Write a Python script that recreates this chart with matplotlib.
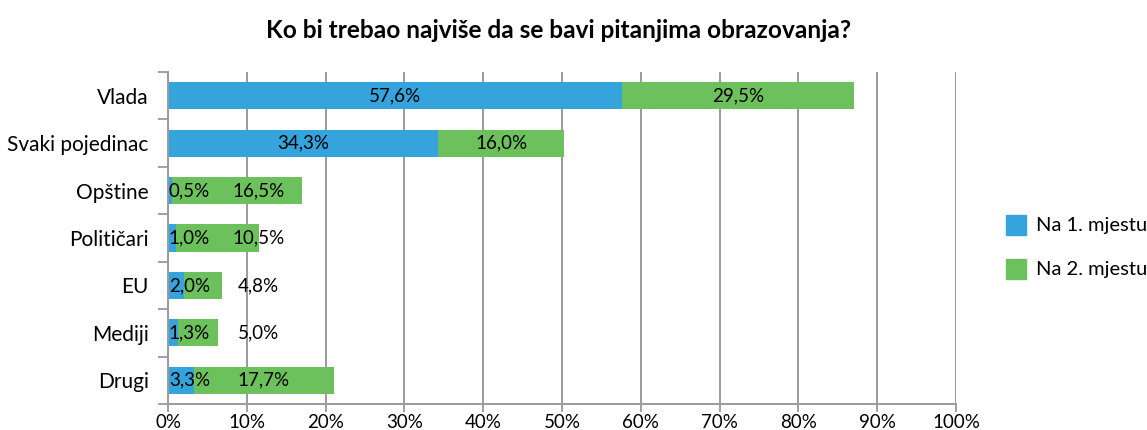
import matplotlib
matplotlib.use('Agg')
import matplotlib.pyplot as plt
from matplotlib.ticker import MultipleLocator, FixedLocator
from matplotlib.patches import Rectangle

plt.rcParams['font.family'] = ['Lato', 'DejaVu Sans']

categories = ['Vlada', 'Svaki pojedinac', 'Opštine', 'Političari', 'EU', 'Mediji', 'Drugi']
prvo = [57.6, 34.3, 0.5, 1.0, 2.0, 1.3, 3.3]
drugo = [29.5, 16.0, 16.5, 10.5, 4.8, 5.0, 17.7]
serije = ['Na 1. mjestu', 'Na 2. mjestu']
naslov = 'Ko bi trebao najviše da se bavi pitanjima obrazovanja?'

plava = '#35a3dc'
zelena = '#6cc15d'
siva = '#9a9a9a'

fig = plt.figure(figsize=(11.47, 4.30), dpi=100)
ax = fig.add_axes([0.1465, 0.0605, 0.687, 0.772])

y = list(range(len(categories)))
ax.barh(y, prvo, height=0.57, color=plava, zorder=3)
ax.barh(y, drugo, left=prvo, height=0.57, color=zelena, zorder=3)

def fmt(v):
    return f'{v:.1f}%'.replace('.', ',')

for i, (a, b) in enumerate(zip(prvo, drugo)):
    x1 = max(a / 2, 2.7)
    x2 = max(a + b / 2, 11.5)
    ax.text(x1, i, fmt(a), ha='center', va='center', fontsize=13.5, zorder=4)
    ax.text(x2, i, fmt(b), ha='center', va='center', fontsize=13.5, zorder=4)

ax.set_xlim(0, 100)
ax.set_ylim(len(categories) - 0.5, -0.5)
ax.xaxis.set_major_locator(MultipleLocator(10))
ax.set_xticklabels([f'{int(t)}%' for t in ax.get_xticks()])
ax.set_yticks(y)
ax.set_yticklabels(categories)
ax.yaxis.set_minor_locator(FixedLocator([k - 0.5 for k in range(len(categories) + 1)]))
ax.tick_params(axis='y', which='major', length=0, pad=14, labelsize=15)
ax.tick_params(axis='y', which='minor', length=7, color=siva, width=1.3)
ax.tick_params(axis='x', length=6, color=siva, width=1.3, pad=1, labelsize=13.5)
ax.grid(axis='x', color=siva, linewidth=1.4, zorder=0)
for s in ['top', 'right']:
    ax.spines[s].set_visible(False)
for s in ['left', 'bottom']:
    ax.spines[s].set_color(siva)
    ax.spines[s].set_linewidth(1.4)
    ax.spines[s].set_zorder(5)

fig.text(0.487, 0.93, naslov, ha='center', va='center', fontsize=17.6, fontweight='bold')

for k, (lab, c) in enumerate(zip(serije, [plava, zelena])):
    yy = 1 - (225 + 44 * k) / 430
    fig.patches.append(Rectangle((1006 / 1147, yy - 10 / 430), 20 / 1147, 20 / 430,
                                 transform=fig.transFigure, color=c))
    fig.text(1036 / 1147, yy, lab, ha='left', va='center', fontsize=14.5)

fig.savefig('out.png', dpi=100)
